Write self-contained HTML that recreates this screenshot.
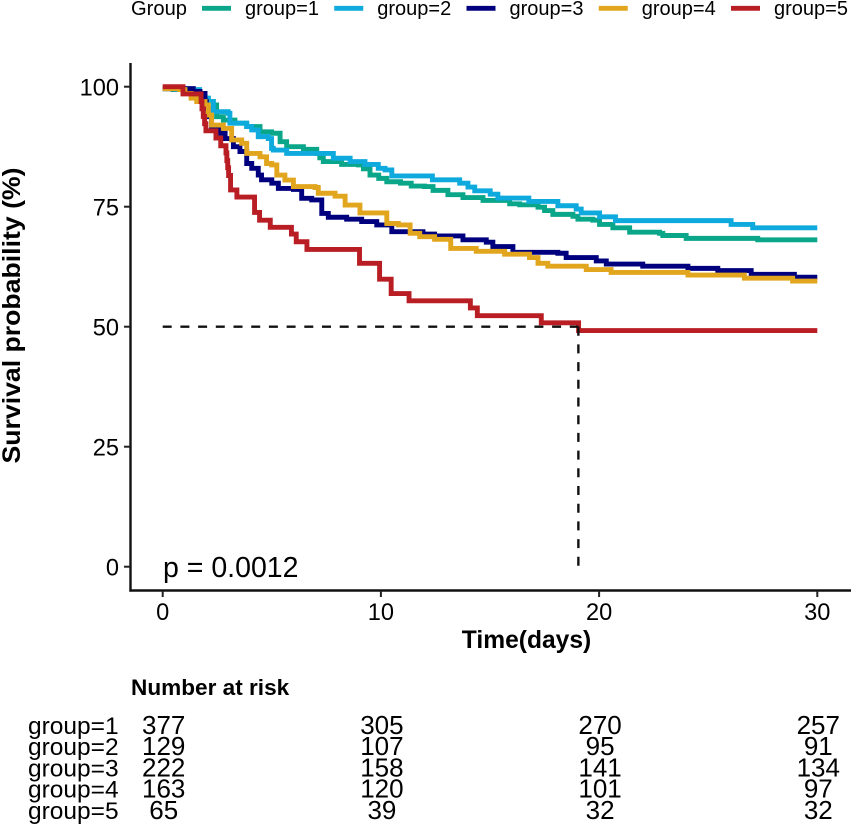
<!DOCTYPE html>
<html lang="en">
<head>
<meta charset="utf-8">
<title>Survival curve by group</title>
<style>
html,body{margin:0;padding:0;background:#fff;}
svg{display:block;font-family:"Liberation Sans",Arial,sans-serif;fill:#000;}
</style>
</head>
<body>
<svg id="chart" xmlns="http://www.w3.org/2000/svg" width="851" height="825" viewBox="0 0 851 825">
  <g font-size="20">
    <text x="131" y="15" textLength="56" lengthAdjust="spacingAndGlyphs">Group</text>
    <g id="legend-entries"></g>
  </g>
  <g id="curves"></g>
  <g id="median"></g>
  <g>
    <line x1="130.5" y1="63" x2="130.5" y2="591.6" stroke="#111" stroke-width="2.4"/>
    <line x1="129.4" y1="590.5" x2="851" y2="590.5" stroke="#111" stroke-width="2.4"/>
    <g id="y-ticks"></g>
    <g id="x-ticks"></g>
  </g>
  <text transform="translate(20,315.5) rotate(-90)" text-anchor="middle" font-size="24.6" font-weight="bold" textLength="296" lengthAdjust="spacingAndGlyphs">Survival probability (%)</text>
  <text x="526.5" y="648" text-anchor="middle" font-size="24.6" font-weight="bold">Time(days)</text>
  <text x="163" y="577" font-size="28.5">p = 0.0012</text>
  <text x="131" y="695" font-size="22.6" font-weight="bold">Number at risk</text>
  <g id="risk-table"></g>
</svg>
<script>
const NS = 'http://www.w3.org/2000/svg';

const groupNames = ['group=1', 'group=2', 'group=3', 'group=4', 'group=5'];
const groupColors = ['#0aa68a', '#0eaade', '#00007f', '#e2a61e', '#b81e24'];

const times1 = [0, 0.47, 1.39, 1.92, 2.09, 2.32, 2.47, 2.78, 3.31, 3.85, 4.46, 4.99, 5.38, 5.68, 6.45, 7.06, 7.2, 7.36, 8.2, 8.97, 9.2, 9.5, 9.9, 10.27, 10.9, 11.39, 12.0, 12.39, 13.07, 13.76, 14.68, 15.9, 16.36, 17.2, 17.5, 17.88, 18.8, 19.03, 19.71, 20.02, 20.63, 21.4, 22.77, 22.92, 23.99, 27.27];
const values1 = [99.6, 99.4, 98.3, 97.6, 96.9, 96.2, 93.75, 93.05, 92.4, 91.7, 90.6, 90.3, 88.55, 87.5, 86.95, 86.1, 85.2, 84.4, 83.8, 83.7, 82.9, 81.6, 80.9, 80.2, 79.9, 79.3, 79.2, 78.4, 77.5, 76.9, 76.3, 75.6, 75.4, 74.9, 74.2, 73.4, 73, 72.4, 72.2, 71.3, 70.6, 69.7, 69.45, 69, 68.4, 68.1];

const times2 = [0, 0.63, 1.69, 2.09, 2.32, 3.0, 3.08, 3.85, 4.08, 4.38, 4.84, 4.99, 5.07, 5.68, 7.82, 8.59, 9.27, 9.88, 10.19, 10.5, 12.36, 13.61, 13.99, 14.3, 15.01, 15.36, 16.78, 18.11, 18.95, 19.18, 20.02, 20.75, 26.05, 27.04];
const values2 = [99.6, 99.4, 97.6, 96.9, 94.8, 94.45, 92.4, 91.7, 91, 89.6, 89.2, 87.15, 86.8, 86.1, 85.1, 84.4, 83.8, 83, 82.65, 81.4, 80.6, 79.9, 79.1, 78.3, 77.6, 76.8, 76.1, 75.2, 74.5, 73.7, 72.9, 72.1, 71.3, 70.6];

const times3 = [0, 1.4, 1.71, 1.94, 2.0, 2.09, 2.24, 2.63, 2.86, 3.24, 3.54, 3.85, 4.08, 4.38, 4.53, 5.0, 5.3, 5.99, 6.37, 6.83, 7.29, 7.59, 8.43, 9.12, 9.81, 10.5, 11.93, 12.46, 13.76, 14.83, 15.13, 16.05, 18.11, 18.49, 19.87, 20.33, 22, 24.07, 25.44, 26.97, 28.95];
const values3 = [99.6, 99, 98.6, 96.9, 95.5, 93.75, 91.7, 90.3, 89.2, 87.5, 86.5, 84, 83, 81.6, 80.6, 79.9, 78.8, 78.6, 76.75, 76.4, 73.6, 72.8, 72.4, 71.9, 71.2, 69.8, 69.3, 68.9, 68.1, 67.6, 66.7, 65.5, 65.3, 64.4, 63.7, 63.05, 62.6, 62.15, 61.7, 60.9, 60.3];

const times4 = [0, 0.78, 1.02, 1.3, 1.56, 1.94, 2.09, 2.24, 2.78, 3.16, 3.62, 3.85, 4.46, 4.76, 5.0, 5.23, 5.6, 5.99, 6.98, 7.13, 7.9, 8.36, 9.04, 10.27, 10.8, 11.34, 11.78, 12.46, 13.2, 14.37, 15.67, 16.81, 17.2, 17.65, 19.41, 20.55, 24.07, 26.66, 28.87];
const values4 = [99.6, 99.4, 98.6, 97.6, 96.9, 96.2, 94.1, 92, 91.3, 88.9, 88.2, 86.1, 85.4, 84, 83.7, 81.6, 80.55, 79.2, 79, 77.8, 77.2, 75.35, 73.7, 71.5, 71.2, 69.45, 68.75, 68.2, 66.3, 65.7, 65.1, 64.4, 63.2, 62.6, 61.9, 61.3, 60.75, 60.1, 59.5];

const times5 = [0, 0.93, 1.76, 1.8, 1.86, 1.92, 1.98, 2.44, 2.66, 2.9, 2.94, 2.98, 3.02, 3.11, 3.4, 4.21, 4.44, 4.93, 5.9, 6.12, 6.61, 9.02, 9.94, 10.47, 11.29, 14.1, 14.42, 17.35, 19.06];
const values5 = [100, 98.5, 96.9, 95.4, 93.8, 92.3, 90.8, 89.3, 87.7, 86.2, 84.6, 83.1, 81.5, 78.5, 77, 73.8, 72.2, 70.7, 69.3, 67.7, 66.1, 63.2, 59.9, 56.9, 55.4, 53.9, 52.3, 50.8, 49.2];

const seriesTimes = [times1, times2, times3, times4, times5];
const seriesValues = [values1, values2, values3, values4, values5];

const maxTime = 30;
const medianSurvival = 50;
const medianTime = 19.05;

const xTicks = [0, 10, 20, 30];
const yTicks = [0, 25, 50, 75, 100];

const riskRow1 = [377, 305, 270, 257];
const riskRow2 = [129, 107, 95, 91];
const riskRow3 = [222, 158, 141, 134];
const riskRow4 = [163, 120, 101, 97];
const riskRow5 = [65, 39, 32, 32];
const riskRows = [riskRow1, riskRow2, riskRow3, riskRow4, riskRow5];

function xScale(t) { return 162.7 + 21.82 * t; }
function yScale(s) { return 566.7 - 4.8 * s; }

function make(tag, attrs, parent, text) {
  const el = document.createElementNS(NS, tag);
  for (const k in attrs) el.setAttribute(k, attrs[k]);
  if (text !== undefined) el.textContent = text;
  parent.appendChild(el);
  return el;
}

function stepPath(ts, vs) {
  let d = 'M' + xScale(ts[0]).toFixed(2) + ' ' + yScale(vs[0]).toFixed(2);
  for (let i = 1; i < ts.length; i++) {
    d += 'H' + xScale(ts[i]).toFixed(2) + 'V' + yScale(vs[i]).toFixed(2);
  }
  d += 'H' + xScale(maxTime).toFixed(2);
  return d;
}

const curves = document.getElementById('curves');
seriesTimes.forEach(function (ts, i) {
  const p = make('path', { d: stepPath(ts, seriesValues[i]), fill: 'none', stroke: groupColors[i], 'stroke-width': 4.9, 'stroke-linejoin': 'miter' }, curves);
  
  
});

const median = document.getElementById('median');
const medianH = make('line', { x1: xScale(0), y1: yScale(medianSurvival), x2: xScale(medianTime), y2: yScale(medianSurvival), stroke: '#111', 'stroke-width': 2.4, 'stroke-dasharray': '9 8.7' }, median);


const medianV = make('line', { x1: xScale(medianTime), y1: yScale(medianSurvival), x2: xScale(medianTime), y2: yScale(0), stroke: '#111', 'stroke-width': 2.4, 'stroke-dasharray': '9 8.7' }, median);



const yTickGroup = document.getElementById('y-ticks');
yTicks.forEach(function (v) {
  const mark = make('line', { x1: 124, x2: 130, y1: yScale(v), y2: yScale(v), stroke: '#222', 'stroke-width': 2 }, yTickGroup);
  
  
  const label = make('text', { x: 119, y: yScale(v) + 8.6, 'text-anchor': 'end', 'font-size': 23.6 }, yTickGroup, String(v));
  
  
});

const xTickGroup = document.getElementById('x-ticks');
xTicks.forEach(function (v) {
  const mark = make('line', { x1: xScale(v), x2: xScale(v), y1: 591, y2: 597, stroke: '#222', 'stroke-width': 2 }, xTickGroup);
  
  
  const label = make('text', { x: xScale(v), y: 620, 'text-anchor': 'middle', 'font-size': 23.6 }, xTickGroup, String(v));
  
  
});

const legendEntries = document.getElementById('legend-entries');
groupNames.forEach(function (name, i) {
  const lx = 202 + i * 132.25;
  const key = make('line', { x1: lx, x2: lx + 29, y1: 8.3, y2: 8.3, stroke: groupColors[i], 'stroke-width': 4.9 }, legendEntries);
  
  
  const label = make('text', { x: lx + 43, y: 15 }, legendEntries, name);
  
  
});

const riskTable = document.getElementById('risk-table');
riskRows.forEach(function (row, r) {
  const y = 734 + r * 21.2;
  const rowLabel = make('text', { x: 28, y: y, 'font-size': 24.5 }, riskTable, groupNames[r]);
  
  
  row.forEach(function (n, c) {
    const cell = make('text', { x: xScale(xTicks[c]) + 1, y: y, 'text-anchor': 'middle', 'font-size': 26 }, riskTable, String(n));
    
    
  });
});
</script>
</body>
</html>
